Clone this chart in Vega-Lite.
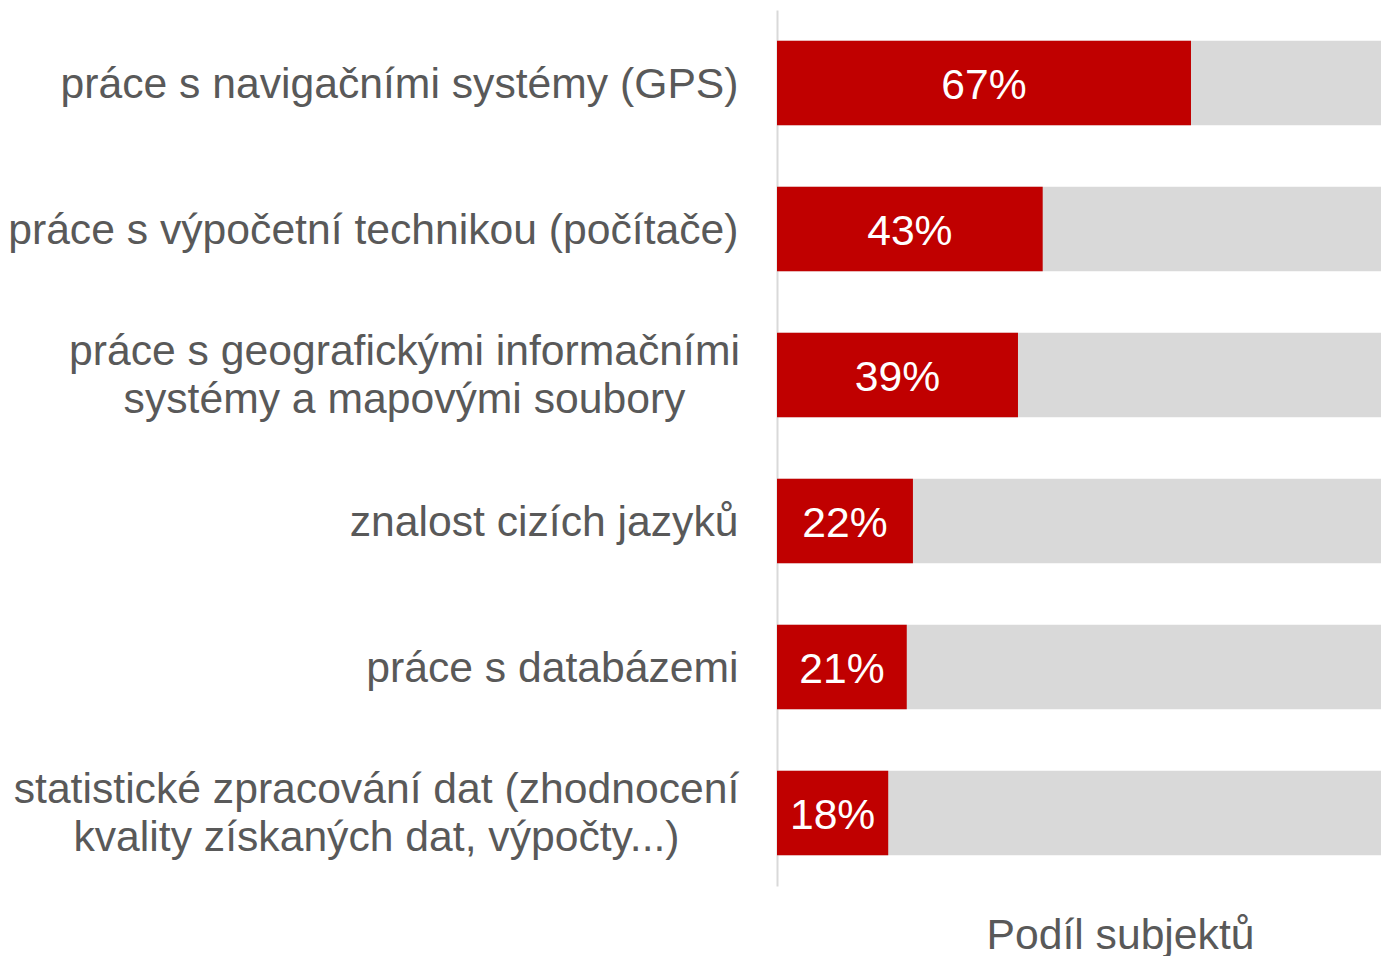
{
  "$schema": "https://vega.github.io/schema/vega-lite/v6.json",
  "autosize": "none",
  "width": 604,
  "height": 876,
  "padding": {"left": 777, "top": 10, "right": 0, "bottom": 70},
  "background": "white",
  "config": {"view": {"stroke": null}, "font": "Liberation Sans"},
  "data": {"values": [
    {"cat": "práce s navigačními systémy (GPS)", "v": 0.67, "lbl": "67%"},
    {"cat": "práce s výpočetní technikou (počítače)", "v": 0.43, "lbl": "43%"},
    {"cat": "práce s geografickými informačními|systémy a mapovými soubory", "v": 0.39, "lbl": "39%"},
    {"cat": "znalost cizích jazyků", "v": 0.22, "lbl": "22%"},
    {"cat": "práce s databázemi", "v": 0.21, "lbl": "21%"},
    {"cat": "statistické zpracování dat (zhodnocení|kvality získaných dat, výpočty...)", "v": 0.18, "lbl": "18%"}
  ]},
  "encoding": {
    "y": {
      "field": "cat", "type": "nominal", "sort": null,
      "scale": {"paddingInner": 0.42, "paddingOuter": 0.21},
      "axis": {
        "title": null,
        "ticks": false,
        "domainColor": "#d9d9d9",
        "domainWidth": 2,
        "labelFont": "Liberation Sans",
        "labelFontSize": 42.67,
        "labelColor": "#595959",
        "labelLimit": 900,
        "labelLineHeight": 48,
        "labelExpr": "split(datum.label, '|')",
        "labelAlign": {"condition": {"test": "indexof(datum.value, '|') >= 0", "value": "center"}, "value": "right"},
        "labelOffset": {"condition": {"test": "indexof(datum.value, '|') >= 0", "value": -23}, "value": 2},
        "labelPadding": {"condition": [
          {"test": "indexof(datum.value, 'geograf') >= 0", "value": 373},
          {"test": "indexof(datum.value, 'statist') >= 0", "value": 401}
        ], "value": 39}
      }
    }
  },
  "resolve": {"scale": {"x": "independent"}},
  "layer": [
    {
      "layer": [
        {
          "mark": {"type": "bar", "color": "#d9d9d9", "clip": true},
          "encoding": {
            "x": {"datum": 0, "type": "quantitative", "scale": {"domain": [0, 0.9775], "nice": false},
                  "axis": {"title": "Podíl subjektů", "labels": false, "ticks": false, "domain": false, "grid": false,
                           "titleFont": "Liberation Sans", "titleFontSize": 42.67, "titleFontWeight": "normal", "titleColor": "#595959",
                           "titleX": 343, "titlePadding": 28}},
            "x2": {"datum": 1}
          }
        },
        {
          "mark": {"type": "bar", "color": "#c00000"},
          "encoding": {
            "x": {"field": "v", "type": "quantitative"},
            "x2": {"datum": 0}
          }
        }
      ]
    },
    {
      "mark": {"type": "text", "color": "white", "fontSize": 42.67, "font": "Liberation Sans", "align": "center", "baseline": "middle", "dy": 3},
      "encoding": {
        "x": {"field": "v", "type": "quantitative", "scale": {"domain": [0, 1.955], "nice": false}, "axis": null},
        "text": {"field": "lbl"}
      }
    }
  ]
}
